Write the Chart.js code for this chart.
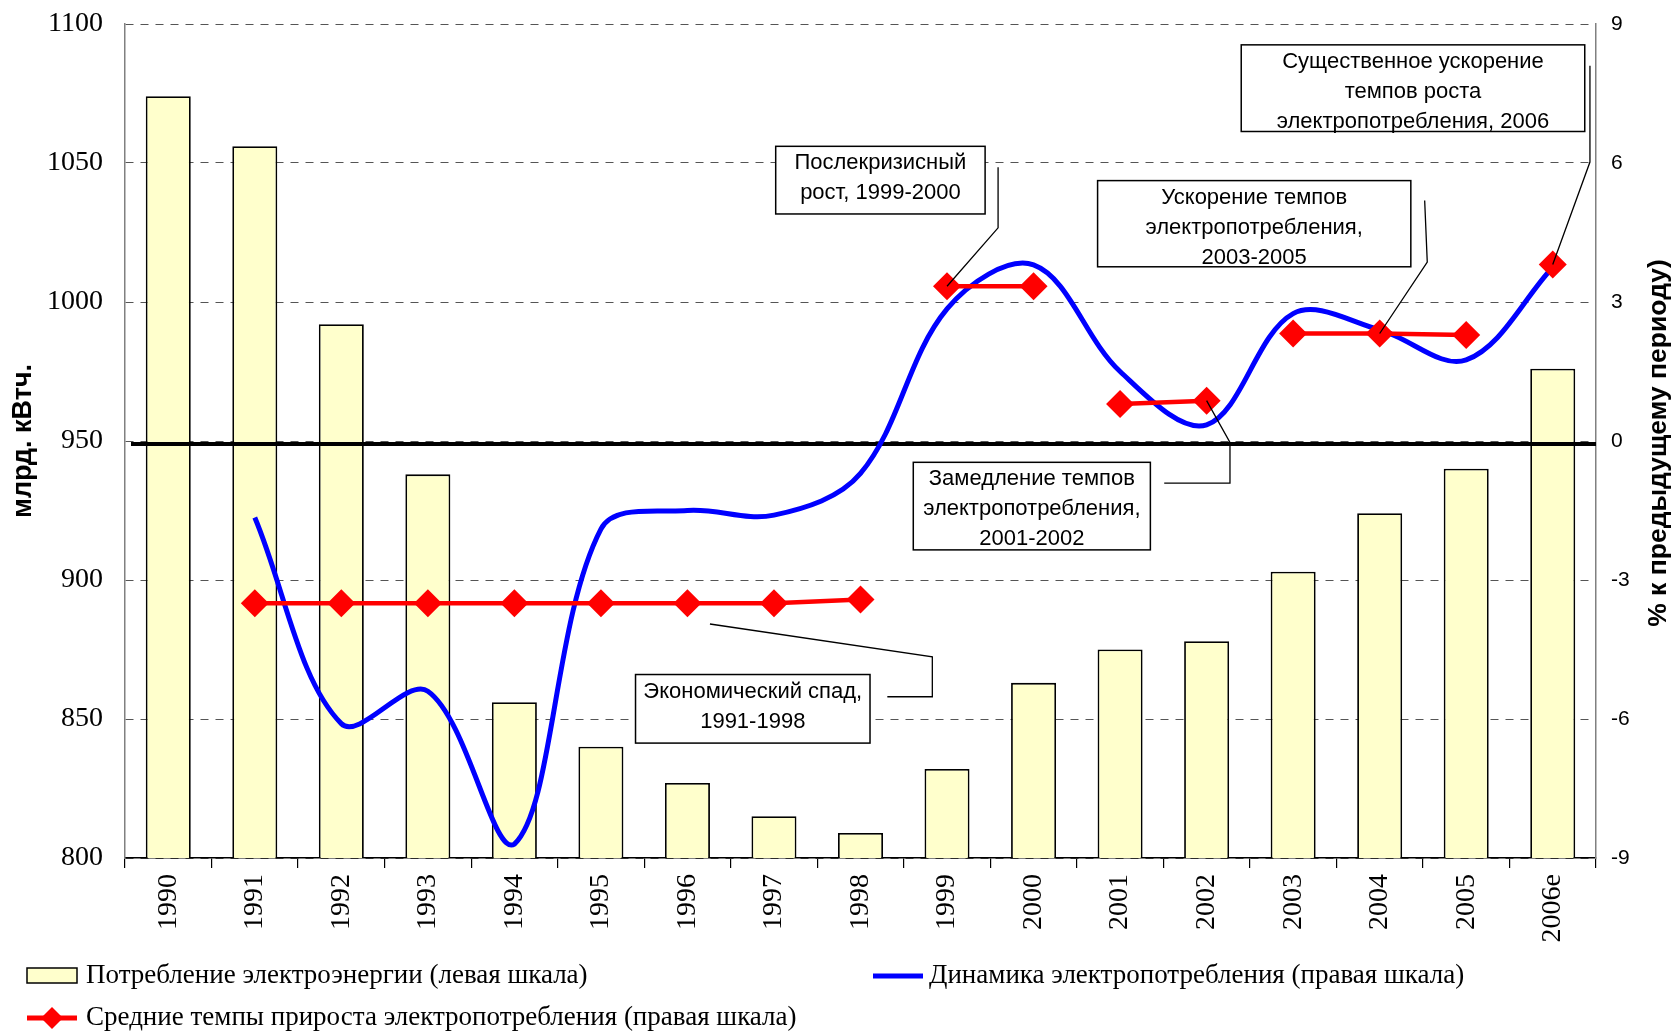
<!DOCTYPE html>
<html><head><meta charset="utf-8">
<script src="https://cdn.jsdelivr.net/npm/chart.js@4.4.1/dist/chart.umd.min.js"></script>
<style>html,body{margin:0;padding:0;background:#fff;}</style>
</head><body>
<canvas id="c" width="1679" height="1032"></canvas>
<script>
// ---- data ----
const years = ['1990','1991','1992','1993','1994','1995','1996','1997','1998','1999','2000','2001','2002','2003','2004','2005','2006e'];
const consumption = [1074,1056,992,938,856,840,827,815,809,832,863,875,878,903,924,940,976];
const dynamics = [null,-1.65,-6.1,-5.4,-8.7,-1.9,-1.5,-1.6,-0.7,2.85,3.8,1.5,0.35,2.75,2.4,1.75,3.75];
const avgGrowth = [null,-3.5,-3.5,-3.5,-3.5,-3.5,-3.5,-3.5,-3.42,3.34,3.34,0.8,0.87,2.32,2.32,2.29,3.81];
const growthPeriods = [null,'1991-1998','1991-1998','1991-1998','1991-1998','1991-1998','1991-1998','1991-1998','1991-1998','1999-2000','1999-2000','2001-2002','2001-2002','2003-2005','2003-2005','2003-2005','2006'];
const leftAxis = {min:800, max:1100, step:50};
const rightAxis = {min:-9, max:9, step:3};
const zeroLevel = 0;
const seriesNames = ['Потребление электроэнергии (левая шкала)','Динамика электропотребления (правая шкала)','Средние темпы прироста электропотребления (правая шкала)'];
const axisTitles = {left:'млрд. кВтч.', right:'% к предыдущему периоду)'};

// callouts: box and leader path in axis units (x = category index, y = right-axis value)
const callouts = [
  {lines:['Послекризисный','рост, 1999-2000'], box:[7.02,6.36,9.44,4.90], path:[[9.59,5.91],[9.59,4.60]], target:9},
  {lines:['Ускорение темпов','электропотребления,','2003-2005'], box:[10.74,5.62,14.36,3.76], path:[[14.52,5.19],[14.55,3.86]], target:14},
  {lines:['Существенное ускорение','темпов роста','электропотребления, 2006'], box:[12.40,8.55,16.37,6.68], path:[[16.43,8.10],[16.43,6.02]], target:16},
  {lines:['Замедление темпов','электропотребления,','2001-2002'], box:[8.61,-0.46,11.35,-2.35], path:[[11.51,-0.91],[12.27,-0.91],[12.27,-0.03]], target:12},
  {lines:['Экономический спад,','1991-1998'], box:[5.40,-5.04,8.11,-6.52], path:[[8.31,-5.52],[8.83,-5.52],[8.83,-4.66],[6.26,-3.95]], target:null}
];

const BAR_FILL = '#FFFFCC', BLUE = '#0000FF', RED = '#FF0000';
const SERIF = '"Liberation Serif", "Times New Roman", serif';
const SANS = '"Liberation Sans", Arial, sans-serif';

function px(chart, xi, v){
  const xs = chart.scales.x, ys = chart.scales.y1;
  const w = (xs.right - xs.left) / years.length;
  return [xs.left + w * (xi + 0.5), ys.getPixelForValue(v)];
}

const overlay = {
  id:'overlay',
  afterDatasetDraw(chart, args){
    if (args.index !== 0) return;
    const ctx = chart.ctx, a = chart.chartArea;
    const y = chart.scales.y1.getPixelForValue(zeroLevel);
    ctx.save();
    ctx.strokeStyle = '#000'; ctx.lineWidth = 4;
    ctx.beginPath(); ctx.moveTo(a.left + 6, y + 3); ctx.lineTo(a.right, y + 3); ctx.stroke();
    ctx.restore();
  },
  afterDraw(chart){
    const ctx = chart.ctx, a = chart.chartArea;
    ctx.save();
    // right axis title (reads bottom to top)
    ctx.save();
    ctx.translate(1659, (a.top + a.bottom) / 2 + 2);
    ctx.rotate(-Math.PI / 2);
    ctx.font = 'bold 26.5px ' + SANS; ctx.fillStyle = '#000';
    ctx.textAlign = 'center'; ctx.textBaseline = 'middle';
    ctx.fillText(axisTitles.right, 0, 0);
    ctx.restore();
    // callouts
    callouts.forEach(c => {
      const [x0,y0] = px(chart, c.box[0], c.box[1]);
      const [x1,y1] = px(chart, c.box[2], c.box[3]);
      ctx.fillStyle = '#fff'; ctx.fillRect(x0,y0,x1-x0,y1-y0);
      ctx.strokeStyle = '#000'; ctx.lineWidth = 1.5; ctx.strokeRect(x0,y0,x1-x0,y1-y0);
      ctx.fillStyle = '#000'; ctx.font = '22px ' + SANS;
      ctx.textAlign = 'center'; ctx.textBaseline = 'middle';
      c.lines.forEach((t,i) => ctx.fillText(t, (x0+x1)/2, y0 + 17 + i*30));
      ctx.beginPath();
      c.path.forEach((p,i) => { const [u,v] = px(chart,p[0],p[1]); if(i===0) ctx.moveTo(u,v); else ctx.lineTo(u,v); });
      if (c.target !== null) { const [u,v] = px(chart, c.target, avgGrowth[c.target]); ctx.lineTo(u,v); }
      ctx.lineWidth = 1.3; ctx.stroke();
    });
    // legend
    ctx.font = '27px ' + SERIF;
    ctx.textAlign = 'left'; ctx.textBaseline = 'middle';
    ctx.fillStyle = BAR_FILL; ctx.fillRect(27,968,50,15);
    ctx.strokeStyle = '#000'; ctx.lineWidth = 1.5; ctx.strokeRect(27,968,50,15);
    ctx.fillStyle = '#000'; ctx.fillText(seriesNames[0], 86, 976);
    ctx.strokeStyle = BLUE; ctx.lineWidth = 5; ctx.beginPath(); ctx.moveTo(873,976); ctx.lineTo(923,976); ctx.stroke();
    ctx.fillText(seriesNames[1], 929, 976);
    ctx.strokeStyle = RED; ctx.lineWidth = 5; ctx.beginPath(); ctx.moveTo(27,1018); ctx.lineTo(77,1018); ctx.stroke();
    ctx.fillStyle = RED; ctx.beginPath(); ctx.moveTo(52,1007); ctx.lineTo(63,1018); ctx.lineTo(52,1029); ctx.lineTo(41,1018); ctx.closePath(); ctx.fill();
    ctx.fillStyle = '#000'; ctx.fillText(seriesNames[2], 86, 1018);
    ctx.restore();
  }
};

new Chart(document.getElementById('c'), {
  data: {
    labels: years,
    datasets: [
      {type:'bar', label:seriesNames[0], data:consumption, yAxisID:'y', backgroundColor:BAR_FILL, borderColor:'#000', borderWidth:1.8, borderSkipped:false, barPercentage:0.52, categoryPercentage:1.0, order:3},
      {type:'line', label:seriesNames[1], data:dynamics, yAxisID:'y1', borderColor:BLUE, borderWidth:5, pointRadius:0, tension:0.35, fill:false, order:2},
      {type:'line', label:seriesNames[2], data:avgGrowth, yAxisID:'y1', borderColor:RED, borderWidth:4.5, tension:0, fill:false,
        pointStyle:'rectRot', pointRadius:14, pointBackgroundColor:RED, pointBorderColor:RED, pointBorderWidth:0, order:1,
        segment:{borderColor: ctx => growthPeriods[ctx.p0DataIndex] === growthPeriods[ctx.p1DataIndex] ? RED : 'rgba(0,0,0,0)'}}
    ]
  },
  options: {
    responsive:false, devicePixelRatio:1, animation:false, events:[],
    layout:{padding:{top:24, bottom:84, left:0, right:0}},
    plugins:{legend:{display:false}, tooltip:{enabled:false}},
    scales: {
      x: {type:'category', offset:true,
        grid:{offset:true, drawOnChartArea:false, drawTicks:true, tickLength:10, color:'#000', lineWidth:1.2},
        border:{color:'#000', width:1.5},
        ticks:{font:{family:SERIF, size:28}, color:'#000', minRotation:90, maxRotation:90, autoSkip:false, padding:6},
        afterFit(s){ s.height = 90; s.paddingLeft = 0; s.paddingRight = 0; }
      },
      y: {position:'left', min:leftAxis.min, max:leftAxis.max,
        ticks:{stepSize:leftAxis.step, font:{family:SERIF, size:28}, color:'#000', padding:22, callback:v => String(v)},
        grid:{color:'#555', lineWidth:1, drawTicks:false},
        border:{color:'#808080', width:1.5, dash:[8,7]},
        title:{display:true, text:axisTitles.left, color:'#000', font:{family:SANS, size:27, weight:'bold'}, padding:{top:7, bottom:0}},
        afterFit(s){ s.width = 125; s.paddingTop = 0; s.paddingBottom = 0; }
      },
      y1: {position:'right', min:rightAxis.min, max:rightAxis.max,
        ticks:{stepSize:rightAxis.step, font:{family:SANS, size:21}, color:'#000', padding:15},
        grid:{drawOnChartArea:false, drawTicks:false},
        border:{color:'#808080', width:1.5},
        afterFit(s){ s.width = 83; s.paddingTop = 0; s.paddingBottom = 0; }
      }
    }
  },
  plugins:[overlay]
});
</script>
</body></html>
